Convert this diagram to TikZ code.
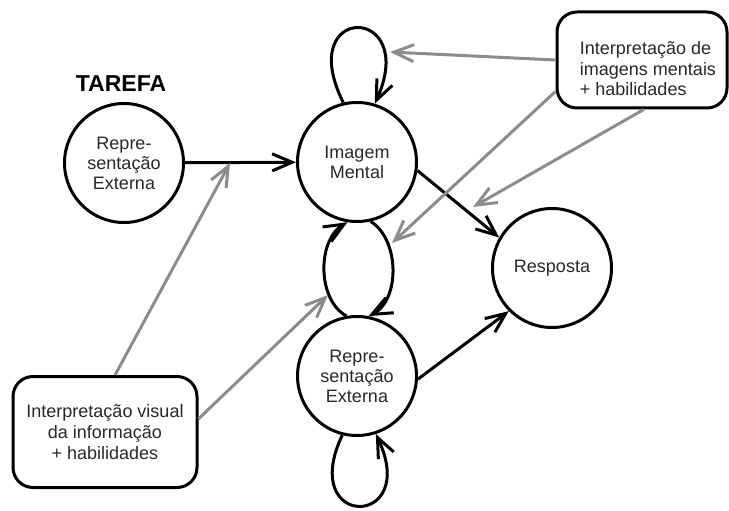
\documentclass[tikz,border=0pt]{standalone}
\usepackage{fontspec}
\setmainfont{Liberation Sans}
\usetikzlibrary{arrows.meta}
\definecolor{cinzaseta}{RGB}{140,140,140}
\definecolor{texto}{RGB}{40,40,40}

\begin{document}
\begin{tikzpicture}[x=1pt,y=-1pt,line width=3pt,
    circ/.style={draw,circle,minimum size=119pt,inner sep=0pt,align=center,
      text=texto,font=\fontsize{18}{20}\selectfont},
    caixa/.style={draw,rounded corners=20pt},
    seta/.style={-{Straight Barb[length=20pt,width=17pt]}},
    cinza/.style={seta,draw=cinzaseta}]
    \useasboundingbox (0,0) rectangle (729,511);
    % nos
    \node[font=\fontsize{23}{23}\selectfont\bfseries] (tarefa) at (121,84) {TAREFA};
    \node[circ] (ext1) at (124,163) {Repre-\\sentação\\Externa};
    \node[circ] (im) at (357,162) {Imagem\\Mental};
    \node[circ] (ext2) at (357,376) {Repre-\\sentação\\Externa};
    \node[circ] (resp) at (552,268) {Resposta};
    \node[caixa,minimum width=170pt,minimum height=96pt] (bxim) at (642,60) {};
    \node[align=left,text=texto,font=\fontsize{18}{20.5}\selectfont] (txim) at (648,69)
      {Interpretação de\\imagens mentais\\+ habilidades};
    \node[caixa,minimum width=184pt,minimum height=111pt,align=center,text=texto,
      font=\fontsize{18}{21}\selectfont] (bxvis) at (105,432)
      {Interpretação visual\\da informação\\+ habilidades};
    % pontos onde chegam as setas cinza
    \coordinate (p1) at (390,52);
    \coordinate (p2) at (392,243);
    \coordinate (p3) at (473,207);
    \coordinate (p4) at (230,163);
    \coordinate (p5) at (328,295);
    % setas pretas
    \draw[seta] (ext1) -- (im);
    \draw[seta] (im.-8) -- (resp.150);
    \draw[seta] (ext2.-3) -- (resp.225);
    \draw[seta] (im.103) .. controls +(-50,-100) and +(45,-100) .. (im.73);
    \draw[seta] (ext2.100) .. controls (317,300) and (317,240) .. (im.261);
    \draw[seta] (im.283) .. controls (400,240) and (400,300) .. (ext2.79);
    \draw[seta] (ext2.256) .. controls +(-45,95) and +(45,95) .. (ext2.288);
    % setas cinza
    \draw[cinza] (bxim.west) -- (p1);
    \draw[cinza] (bxim.200) -- (p2);
    \draw[cinza] (bxim.-88) -- (p3);
    \draw[cinza] (bxvis.80) -- (p4);
    \draw[cinza] (bxvis.8) -- (p5);
\end{tikzpicture}
\end{document}
